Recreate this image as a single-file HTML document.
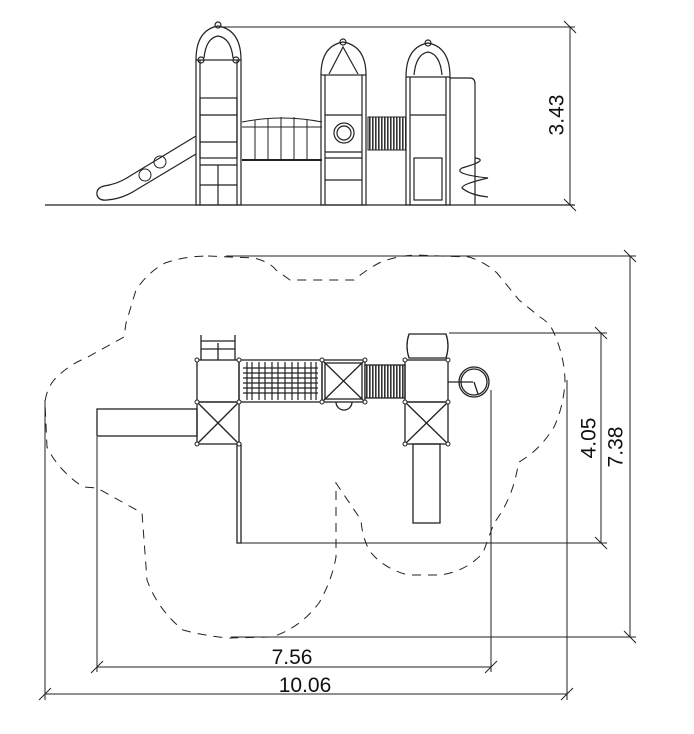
<!DOCTYPE html>
<html><head><meta charset="utf-8"><style>
html,body{margin:0;padding:0;background:#fff}
svg{display:block}
text{font-family:"Liberation Sans",Arial,sans-serif;fill:#111}
</style></head><body>
<svg width="694" height="734" viewBox="0 0 694 734" xmlns="http://www.w3.org/2000/svg">
<defs>
<pattern id="st" width="3" height="10" patternUnits="userSpaceOnUse"><rect width="3" height="10" fill="#fff"/><rect width="1.6" height="10" fill="#333"/></pattern>
</defs>
<g fill="none" stroke="#222" stroke-width="1">
<line x1="45" y1="205" x2="575" y2="205" stroke-width="1.3"/>
<line x1="219" y1="27" x2="575" y2="27"/>
<line x1="570" y1="27" x2="570" y2="205"/>
<line x1="564" y1="21" x2="576" y2="33"/><line x1="564" y1="199" x2="576" y2="211"/>

<path d="M196,136 L130,176 Q118,184 104,186 Q96,188 97,195 Q99,201 107,200 Q122,199 136,190 L196,154" stroke-width="1.2"/>
<circle cx="160" cy="162" r="6"/><circle cx="145" cy="175" r="6"/>

<g stroke-width="1.2">
<rect x="196" y="60" width="45" height="145"/>
<line x1="200" y1="60" x2="200" y2="205"/><line x1="237" y1="60" x2="237" y2="205"/>
<path d="M196,60 Q196,30 218,26 Q241,30 241,60"/>
<path d="M204,58 Q206,38 218,36 Q231,38 233,58"/>
<circle cx="201" cy="60" r="3"/><circle cx="236" cy="60" r="3"/><circle cx="218" cy="25" r="3"/>
<rect x="200" y="98" width="37" height="60"/>
<line x1="200" y1="115" x2="237" y2="115"/><line x1="200" y1="142" x2="237" y2="142"/>
<line x1="200" y1="165" x2="237" y2="165"/><line x1="200" y1="185" x2="237" y2="185"/>
<line x1="218" y1="165" x2="218" y2="205"/>
</g>
<path d="M242,122 Q282,114 322,122"/>
<line x1="242" y1="127" x2="322" y2="127"/>
<line x1="242" y1="160" x2="322" y2="160" stroke-width="2"/>
<g><line x1="255" y1="120" x2="255" y2="160"/><line x1="268" y1="118" x2="268" y2="160"/><line x1="281" y1="117" x2="281" y2="160"/><line x1="294" y1="117" x2="294" y2="160"/><line x1="307" y1="119" x2="307" y2="160"/></g>
<g stroke-width="1.2">
<rect x="321" y="75" width="45" height="130"/>
<line x1="325" y1="75" x2="325" y2="205"/><line x1="362" y1="75" x2="362" y2="205"/>
<path d="M321,75 Q321,46 343,42 Q366,46 366,75"/>
<path d="M329,74 L343,47 L358,74"/>
<circle cx="343" cy="42" r="3"/>
<line x1="325" y1="115" x2="362" y2="115"/><line x1="325" y1="152" x2="362" y2="152"/>
<line x1="325" y1="158" x2="362" y2="158"/><line x1="325" y1="180" x2="362" y2="180"/>
<circle cx="344" cy="133" r="10"/><circle cx="344" cy="133" r="7"/>
</g>
<rect x="368" y="117" width="38" height="33" fill="url(#st)"/>
<g stroke-width="1.2">
<rect x="406" y="77" width="44" height="128"/>
<line x1="410" y1="77" x2="410" y2="205"/><line x1="446" y1="77" x2="446" y2="205"/>
<path d="M406,77 Q406,47 428,43 Q450,47 450,77"/>
<path d="M414,75 Q416,54 428,52 Q440,54 442,75"/>
<circle cx="428" cy="43" r="3"/>
<line x1="410" y1="115" x2="446" y2="115"/>
<rect x="414" y="158" width="28" height="42"/>
</g>
<path d="M450,78 L470,78 Q475,78 475,84 L475,205" stroke-width="1.2"/>
<path d="M475,158 Q490,160 462,168 Q452,174 488,178 Q462,184 462,188 Q470,195 488,197" stroke-width="1.2"/>

<path stroke-dasharray="9,7" d="M208,256 L254,258 Q270,262 276,270 L290,280 L354,280 Q366,270 379,263 Q395,256 415,255 L469,257 Q485,262 497,273 L519,300 L540,317 Q550,323 554,333 Q565,358 565,383 Q563,408 554,427 Q540,450 519,462 L515,480 Q508,505 494,523 L483,553 Q465,572 440,575 L408,575 Q382,568 369,550 Q362,536 361,520 L336,483 L336,557 Q332,580 319,603 Q300,628 272,637 L229,638 Q205,636 183,630 Q158,610 147,580 L142,513 L97,488 L83,487 Q58,470 47,447 L45,403 Q46,390 54,380 Q68,365 86,358 L124,337 L126,323 L136,290 Q148,272 165,263 Q185,256 208,256 Z"/>

<line x1="226" y1="256" x2="636" y2="256"/>
<line x1="630" y1="256" x2="630" y2="637"/>
<line x1="231" y1="637" x2="636" y2="637"/>
<line x1="624" y1="250" x2="636" y2="262"/><line x1="624" y1="631" x2="636" y2="643"/>
<line x1="449" y1="333" x2="607" y2="333"/>
<line x1="601" y1="333" x2="601" y2="543"/>
<line x1="239" y1="543" x2="607" y2="543"/>
<line x1="595" y1="327" x2="607" y2="339"/><line x1="595" y1="537" x2="607" y2="549"/>
<line x1="567" y1="380" x2="567" y2="700"/>
<line x1="97" y1="437" x2="97" y2="672"/>
<line x1="491" y1="390" x2="491" y2="672"/>
<line x1="97" y1="667" x2="491" y2="667"/>
<line x1="91" y1="673" x2="103" y2="661"/><line x1="485" y1="673" x2="497" y2="661"/>
<line x1="45" y1="400" x2="45" y2="700"/>
<line x1="45" y1="694" x2="567" y2="694"/>
<line x1="39" y1="700" x2="51" y2="688"/><line x1="561" y1="700" x2="573" y2="688"/>

<g stroke-width="1.3">
<line x1="201" y1="335" x2="201" y2="360"/><line x1="235" y1="335" x2="235" y2="360"/><line x1="218" y1="343" x2="218" y2="360"/>
<line x1="201" y1="341" x2="235" y2="341"/><line x1="201" y1="349" x2="235" y2="349"/>
<rect x="197" y="360" width="42" height="42"/>
<rect x="197" y="402" width="42" height="42"/>
<line x1="197" y1="402" x2="239" y2="444"/><line x1="239" y1="402" x2="197" y2="444"/>
<rect x="97" y="409" width="100" height="27"/>
<rect x="237" y="444" width="4" height="99"/>
<rect x="239" y="360" width="83" height="42"/>
<g stroke-width="1.2"><line x1="243" y1="368" x2="318" y2="368"/><line x1="243" y1="373" x2="318" y2="373"/><line x1="243" y1="378" x2="318" y2="378"/><line x1="243" y1="383" x2="318" y2="383"/><line x1="243" y1="388" x2="318" y2="388"/><line x1="243" y1="393" x2="318" y2="393"/>
<line x1="247" y1="362" x2="247" y2="400"/><line x1="252" y1="362" x2="252" y2="400"/><line x1="259" y1="362" x2="259" y2="400"/><line x1="265" y1="362" x2="265" y2="400"/><line x1="272" y1="362" x2="272" y2="400"/><line x1="278" y1="362" x2="278" y2="400"/><line x1="285" y1="362" x2="285" y2="400"/><line x1="292" y1="362" x2="292" y2="400"/><line x1="298" y1="362" x2="298" y2="400"/><line x1="305" y1="362" x2="305" y2="400"/><line x1="311" y1="362" x2="311" y2="400"/><line x1="316" y1="362" x2="316" y2="400"/></g>
<rect x="322" y="360" width="43" height="42"/>
<rect x="325" y="363" width="37" height="36"/>
<line x1="322" y1="360" x2="365" y2="402"/><line x1="365" y1="360" x2="322" y2="402"/>
<path d="M336,402 A8,8 0 0 0 352,402"/>
<rect x="365" y="365" width="40" height="33" fill="url(#st)"/>
<rect x="405" y="360" width="43" height="42"/>
<rect x="405" y="402" width="43" height="42"/>
<line x1="405" y1="402" x2="448" y2="444"/><line x1="448" y1="402" x2="405" y2="444"/>
<path d="M409,334 L446,334 Q450,346 446,358 L409,358 Q405,346 409,334 Z"/>
<rect x="413" y="444" width="27" height="79"/>
<line x1="448" y1="382" x2="473" y2="382"/>
<circle cx="474" cy="382" r="15"/><circle cx="474" cy="382" r="13"/>
<line x1="474" y1="382" x2="478" y2="394"/>
</g>
<g fill="#fff" stroke-width="1">
<circle cx="197" cy="360" r="2"/><circle cx="239" cy="360" r="2"/><circle cx="197" cy="402" r="2"/><circle cx="239" cy="402" r="2"/><circle cx="197" cy="444" r="2"/><circle cx="239" cy="444" r="2"/>
<circle cx="322" cy="360" r="2"/><circle cx="365" cy="360" r="2"/><circle cx="322" cy="402" r="2"/><circle cx="365" cy="402" r="2"/>
<circle cx="405" cy="360" r="2"/><circle cx="448" cy="360" r="2"/><circle cx="405" cy="402" r="2"/><circle cx="448" cy="402" r="2"/><circle cx="405" cy="444" r="2"/><circle cx="448" cy="444" r="2"/>
</g>
</g>
<text x="558" y="115" font-size="21" text-anchor="middle" transform="rotate(-90 558 115)" dominant-baseline="middle">3.43</text>
<text x="590" y="438" font-size="21" text-anchor="middle" transform="rotate(-90 590 438)" dominant-baseline="middle">4.05</text>
<text x="617" y="447" font-size="21" text-anchor="middle" transform="rotate(-90 617 447)" dominant-baseline="middle">7.38</text>
<text x="292" y="664" font-size="21" text-anchor="middle">7.56</text>
<text x="305" y="692" font-size="21" text-anchor="middle">10.06</text>
</svg>
</body></html>
